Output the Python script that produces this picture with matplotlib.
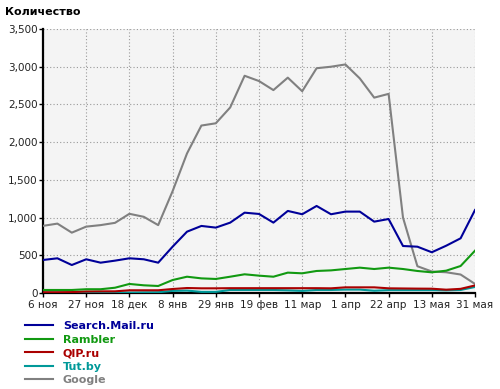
import matplotlib
matplotlib.use("Agg")
import matplotlib.pyplot as plt
from matplotlib.lines import Line2D

tick_labels = ["6 ноя", "27 ноя", "18 дек", "8 янв", "29 янв", "19 фев",
               "11 мар", "1 апр", "22 апр", "13 мая", "31 мая"]

mail = [438, 460, 371, 447, 402, 429, 460, 447, 402, 614, 813, 889, 867, 933,
        1065, 1048, 933, 1088, 1044, 1154, 1044, 1079, 1079, 946, 981, 623,
        614, 540, 627, 725, 1100]
rambler = [40, 40, 40, 50, 50, 70, 120, 102, 93, 172, 216, 194, 186, 216, 248,
           230, 216, 270, 261, 292, 300, 318, 336, 318, 336, 318, 292, 274,
           296, 358, 561]
qip = [10, 10, 12, 20, 22, 22, 36, 36, 36, 53, 66, 62, 62, 64, 64, 64, 64, 64,
       64, 64, 62, 75, 75, 75, 62, 60, 58, 57, 44, 55, 100]
tut = [3, 3, 3, 3, 3, 3, 5, 8, 10, 28, 32, 15, 15, 40, 40, 40, 40, 35, 28, 40,
       40, 45, 45, 30, 38, 38, 38, 38, 35, 40, 80]
google = [890, 920, 800, 880, 900, 930, 1050, 1010, 900, 1350, 1850, 2220,
          2250, 2460, 2880, 2810, 2690, 2855, 2675, 2980, 3000, 3030, 2845,
          2590, 2640, 1000, 355, 285, 275, 245, 120]

series = [
    ("Search.Mail.ru", mail, "#000099"),
    ("Rambler", rambler, "#119911"),
    ("QIP.ru", qip, "#aa0000"),
    ("Tut.by", tut, "#009999"),
    ("Google", google, "#808080"),
]

fig = plt.figure(figsize=(5.0, 3.89), dpi=100)
ax = fig.add_axes([43 / 500, 1 - 293 / 389, 432 / 500, 264 / 389])
ax.set_facecolor("#f4f4f4")

xs = list(range(len(mail)))
for name, vals, col in reversed(series):
    ax.plot(xs, vals, color=col, lw=1.5, zorder=3)

ax.set_xlim(0, 30)
ax.set_ylim(0, 3500)
ax.set_xticks(list(range(0, 31, 3)))
ax.set_xticklabels(tick_labels)
ax.set_yticks(range(0, 3501, 500))
ax.set_yticklabels([f"{v:,}" for v in range(0, 3501, 500)])
ax.grid(True, color="#999999", linestyle=(0, (1, 2)), lw=0.8)
ax.set_axisbelow(True)
for s in ["top", "right"]:
    ax.spines[s].set_visible(False)
for s in ["left", "bottom"]:
    ax.spines[s].set_linewidth(1.6)
    ax.spines[s].set_color("black")
ax.tick_params(axis="both", labelsize=7.5, colors="black", length=3, width=1,
               labelcolor="#222222")
ax.tick_params(axis="x", pad=2)
ax.tick_params(axis="y", pad=1)

fig.text(5 / 500, 1 - 12 / 389, "Количество", fontsize=8, fontweight="bold",
         va="center", ha="left")

handles = [Line2D([0], [0], color=c, lw=1.5) for _, _, c in series]
leg = fig.legend(handles, [n for n, _, _ in series], loc="upper left",
                 bbox_to_anchor=(25 / 500, 1 - 321 / 389), frameon=False,
                 prop={"weight": "bold", "size": 8}, handlelength=2.5,
                 handletextpad=0.9, labelspacing=0.32, borderpad=0,
                 borderaxespad=0)
for t, (_, _, c) in zip(leg.get_texts(), series):
    t.set_color(c)

fig.savefig("out.png", dpi=100)
